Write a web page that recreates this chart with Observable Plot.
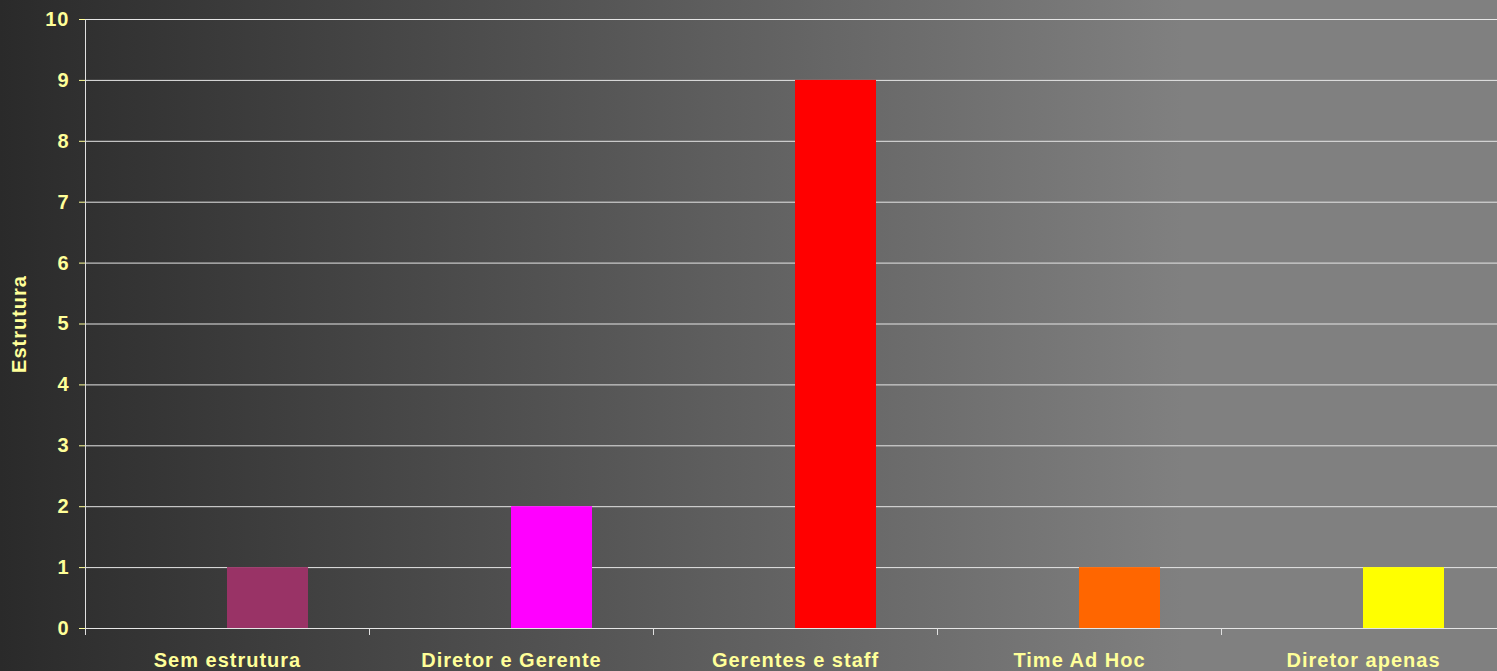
<!DOCTYPE html>
<html>
<head>
<meta charset="utf-8">
<script src="https://cdn.jsdelivr.net/npm/d3@7"></script>
<script src="https://cdn.jsdelivr.net/npm/@observablehq/plot@0.6"></script>
<style>
  html, body { margin: 0; padding: 0; overflow: hidden; background: linear-gradient(to right, #2a2a2a 0%, #808080 79%, #808080 100%); }
  #chart svg text { letter-spacing: 1px; }
  #chart svg g[aria-label="y-axis tick"] { stroke: #e0e0e0; }
</style>
</head>
<body>
<div id="chart"></div>
<script>
// ---- data ----
const categories = ["Sem estrutura", "Diretor e Gerente", "Gerentes e staff", "Time Ad Hoc", "Diretor apenas"];
const values = [1, 2, 9, 1, 1];
const yTicks = [0, 1, 2, 3, 4, 5, 6, 7, 8, 9, 10];
const seriesSlots = ["(vazio)", "Estrutura"];   // Excel cluster: empty slot + the plotted series
const palette = ["#993366", "#ff00ff", "#ff0000", "#ff6600", "#ffff00"];

const table = categories.map((c, i) => ({cat: c, value: values[i], series: seriesSlots[1]}));

// boundary ticks under the baseline and the left axis line
let facetCount = 0;
function edgeMarks(index, scales, values_, dims) {
  const r = scales.x && scales.x.range ? scales.x.range() : [dims.marginLeft, dims.width - dims.marginRight];
  const x0 = Math.round(Math.min(r[0], r[1])) + 0.5;
  const y0 = scales.y(0), yTop = scales.y(yTicks[yTicks.length - 1]);
  const g = d3.create("svg:g").attr("stroke", "#e0e0e0").attr("stroke-width", 1);
  g.append("line").attr("x1", x0).attr("x2", x0).attr("y1", y0).attr("y2", y0 + 7);
  if (facetCount++ === 0) {
    g.append("line").attr("x1", x0).attr("x2", x0).attr("y1", yTop).attr("y2", y0);
  }
  return g.node();
}

const chart = Plot.plot({
  width: 1497,
  height: 671,
  marginLeft: 84,
  marginRight: -8,
  marginTop: 19,
  marginBottom: 43,
  style: {
    background: "transparent",
    color: "#ffff99",
    fontFamily: "'Liberation Sans', Arial, sans-serif",
    fontSize: "20px",
    fontWeight: "bold",
    overflow: "visible"
  },
  fx: {domain: categories, padding: 0, axis: "bottom", tickSize: 0, tickPadding: 24, label: null},
  x: {domain: seriesSlots, paddingInner: 0, paddingOuter: 0.75, axis: null},
  y: {domain: [0, 10], ticks: yTicks, tickSize: 6, tickPadding: 10, label: "Estrutura", labelAnchor: "center", labelOffset: 74, labelArrow: "none"},
  color: {domain: categories, range: palette},
  marks: [
    Plot.ruleY(yTicks, {stroke: "#e6e6e6", strokeWidth: 1}),
    Plot.barY(table, {fx: "cat", x: "series", y: "value", fill: "cat"}),
    edgeMarks
  ]
});
document.getElementById("chart").appendChild(chart);
</script>
</body>
</html>
